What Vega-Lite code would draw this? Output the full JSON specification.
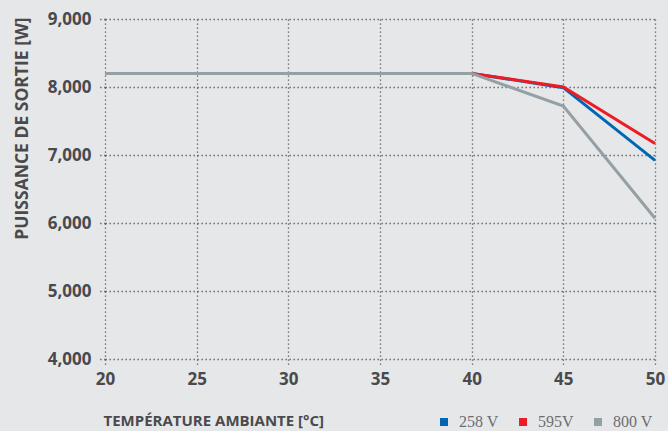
{
  "$schema": "https://vega.github.io/schema/vega-lite/v6.json",
  "width": 550,
  "height": 340,
  "autosize": {"type": "none"},
  "padding": {"left": 105, "top": 19, "right": 13, "bottom": 72},
  "background": "#e6e7e9",
  "config": {
    "view": {"stroke": null},
    "font": "Open Sans"
  },
  "data": {
    "values": [
      {"temp": 20, "power": 8200, "series": "258 V"},
      {"temp": 25, "power": 8200, "series": "258 V"},
      {"temp": 30, "power": 8200, "series": "258 V"},
      {"temp": 35, "power": 8200, "series": "258 V"},
      {"temp": 40, "power": 8200, "series": "258 V"},
      {"temp": 45, "power": 7990, "series": "258 V"},
      {"temp": 50, "power": 6920, "series": "258 V"},
      {"temp": 20, "power": 8200, "series": "595V"},
      {"temp": 25, "power": 8200, "series": "595V"},
      {"temp": 30, "power": 8200, "series": "595V"},
      {"temp": 35, "power": 8200, "series": "595V"},
      {"temp": 40, "power": 8200, "series": "595V"},
      {"temp": 45, "power": 8000, "series": "595V"},
      {"temp": 50, "power": 7170, "series": "595V"},
      {"temp": 20, "power": 8200, "series": "800 V"},
      {"temp": 25, "power": 8200, "series": "800 V"},
      {"temp": 30, "power": 8200, "series": "800 V"},
      {"temp": 35, "power": 8200, "series": "800 V"},
      {"temp": 40, "power": 8200, "series": "800 V"},
      {"temp": 45, "power": 7720, "series": "800 V"},
      {"temp": 50, "power": 6070, "series": "800 V"}
    ]
  },
  "mark": {"type": "line", "strokeWidth": 3},
  "encoding": {
    "x": {
      "field": "temp",
      "type": "quantitative",
      "scale": {"domain": [20, 50], "nice": false, "zero": false},
      "axis": {
        "title": "TEMPÉRATURE AMBIANTE [°C]",
        "values": [20, 25, 30, 35, 40, 45, 50],
        "domain": false,
        "grid": true,
        "gridColor": "#58595b",
        "gridDash": [1.3, 2.7],
        "gridWidth": 1.3,
        "ticks": true,
        "tickColor": "#58595b",
        "tickDash": [1.3, 2.7],
        "tickWidth": 1.3,
        "tickSize": 8,
        "labelFlush": false,
        "labelPadding": 4,
        "labelFont": "Open Sans",
        "labelFontWeight": "bold",
        "labelFontSize": 17,
        "labelColor": "#4a4a4c",
        "titleFont": "Open Sans",
        "titleFontWeight": "bold",
        "titleFontSize": 15,
        "titleColor": "#4a4a4c",
        "titleAnchor": "start",
        "titleAlign": "left",
        "titleBaseline": "middle",
        "titleX": -2,
        "titleY": 61
      }
    },
    "y": {
      "field": "power",
      "type": "quantitative",
      "scale": {"domain": [4000, 9000], "nice": false, "zero": false},
      "axis": {
        "title": "PUISSANCE DE SORTIE [W]",
        "values": [4000, 5000, 6000, 7000, 8000, 9000],
        "format": ",d",
        "domain": false,
        "grid": true,
        "gridColor": "#58595b",
        "gridDash": [1.3, 2.7],
        "gridWidth": 1.3,
        "ticks": true,
        "tickColor": "#58595b",
        "tickDash": [1.3, 2.7],
        "tickWidth": 1.3,
        "tickSize": 8,
        "labelPadding": 6,
        "labelFont": "Open Sans",
        "labelFontWeight": "bold",
        "labelFontSize": 17,
        "labelColor": "#4a4a4c",
        "titleFont": "Open Sans",
        "titleFontWeight": "bold",
        "titleFontSize": 17.5,
        "titleColor": "#4a4a4c",
        "titleAngle": -90,
        "titleAlign": "center",
        "titleBaseline": "middle",
        "titleX": -83,
        "titleY": 109
      }
    },
    "color": {
      "field": "series",
      "type": "nominal",
      "sort": ["258 V", "595V", "800 V"],
      "scale": {"domain": ["258 V", "595V", "800 V"], "range": ["#0066b3", "#ed1c24", "#959fa6"]},
      "legend": {
        "title": null,
        "orient": "none",
        "direction": "horizontal",
        "legendX": 331,
        "legendY": 395,
        "gridAlign": "none",
        "symbolType": "square",
        "symbolSize": 16,
        "symbolStrokeWidth": 4,
        "symbolOpacity": 1,
        "labelFont": "Liberation Serif",
        "labelFontSize": 16,
        "labelColor": "#6d6e71",
        "labelOffset": 7,
        "columnPadding": 14
      }
    },
    "order": {"field": "series"}
  }
}
